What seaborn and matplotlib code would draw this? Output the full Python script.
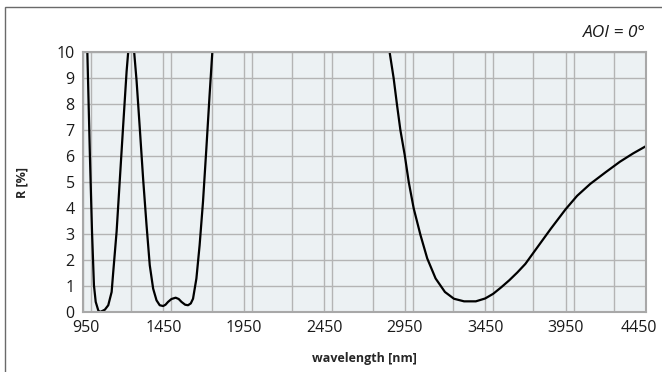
import numpy as np
import pandas as pd
import seaborn as sns
import matplotlib.pyplot as plt
from matplotlib.patches import Rectangle
from matplotlib.ticker import MultipleLocator
from matplotlib.transforms import ScaledTranslation

# values (points above 10 % run off the top of the plot)
wavelength = [960, 977, 993, 1006, 1018, 1029, 1045, 1055, 1070, 1086, 1107, 1128, 1138, 1159, 1179,
              1200, 1221, 1231, 1241, 1250, 1259, 1268, 1283, 1303, 1324, 1345, 1365, 1386, 1407,
              1427, 1448, 1463, 1479, 1500, 1526, 1545, 1562, 1585, 1603, 1620, 1634, 1655, 1675,
              1696, 1717, 1737, 1754, 1775, 2300, 2835,
              2856, 2881, 2902, 2923, 2950, 2975, 3006, 3048, 3090, 3142, 3200, 3256, 3319, 3392,
              3450, 3500, 3550, 3600, 3650, 3700, 3776, 3858, 3950, 4022, 4104, 4200, 4288, 4370, 4450]
reflectance = [14.3, 10.0, 6.0, 3.1, 1.03, 0.39, 0.06, 0.0, 0.04, 0.09, 0.26, 0.77, 1.54, 3.1, 5.1,
               7.2, 9.25, 10.0, 10.45, 10.6, 10.45, 10.0, 8.9, 7.07, 5.1, 3.34, 1.8, 0.9, 0.45,
               0.26, 0.23, 0.28, 0.39, 0.5, 0.55, 0.5, 0.39, 0.28, 0.26, 0.33, 0.51, 1.29, 2.57,
               4.24, 6.3, 8.35, 10.0, 12.6, 30.0, 12.0,
               10.0, 9.0, 7.97, 7.0, 6.04, 5.0, 3.98, 2.96, 2.06, 1.29, 0.77, 0.51, 0.41, 0.41,
               0.52, 0.7, 0.95, 1.22, 1.52, 1.85, 2.5, 3.2, 3.95, 4.47, 4.93, 5.38, 5.78, 6.1, 6.38]

df = pd.DataFrame({'wavelength': wavelength, 'R': reflectance})

sns.set_style('white')
plt.rcParams['font.family'] = ['Open Sans', 'DejaVu Sans']

fig = plt.figure(figsize=(6.62, 3.72), dpi=100)
ax = fig.add_axes([83/662, 1 - 312/372, 563/662, 260/372])
ax.set_facecolor('#ecf1f3')

sns.lineplot(data=df, x='wavelength', y='R', color='black', linewidth=1.6, ax=ax)

ax.set_xlim(950, 4450)
ax.set_ylim(0, 10)
ax.set_xticks(np.arange(950, 4451, 500))
ax.xaxis.set_minor_locator(MultipleLocator(250))
ax.yaxis.set_major_locator(MultipleLocator(1))
ax.grid(which='both', color='#b4b4b4', linewidth=1.0)
ax.set_axisbelow(True)
ax.tick_params(which='both', length=0, labelsize=11.5, colors='#1a1a1a')
ax.tick_params(axis='x', pad=6)
ax.tick_params(axis='y', pad=6)
for s in ax.spines.values():
    s.set_color('#a8a8a8')
    s.set_linewidth(1.5)

# nudge the end labels inward like the reference
labels = ax.get_xticklabels()
labels[0].set_transform(labels[0].get_transform() + ScaledTranslation(0.03, 0, fig.dpi_scale_trans))
labels[-1].set_transform(labels[-1].get_transform() + ScaledTranslation(-0.07, 0, fig.dpi_scale_trans))

ax.set_xlabel('wavelength [nm]', fontsize=9, fontweight='bold', labelpad=11)
ax.set_ylabel('R [%]', fontsize=9, fontweight='bold', labelpad=20)
ax.text(1.0, 1.073, 'AOI = 0°', transform=ax.transAxes, ha='right', va='center',
        fontsize=12.5, style='italic', color='#1a1a1a')

fig.patches.append(Rectangle((5/662, -0.1), 1.2, 1.1 - 7/372, transform=fig.transFigure,
                             fill=False, edgecolor='#6a6a6a', linewidth=1.0, clip_on=False))

fig.savefig('out.png', dpi=100)
